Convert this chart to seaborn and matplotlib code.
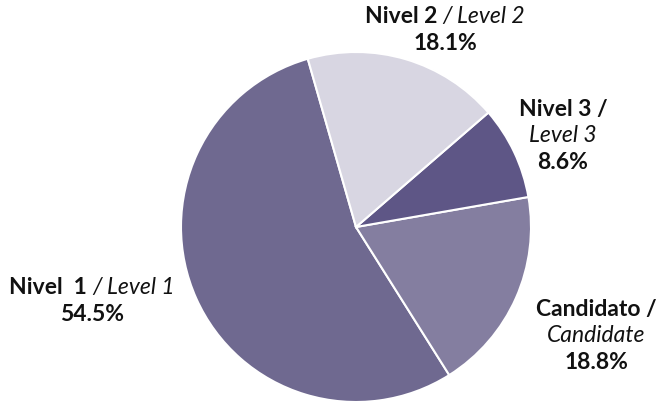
import matplotlib
matplotlib.use("Agg")
import matplotlib.pyplot as plt
import seaborn as sns
from matplotlib.offsetbox import TextArea, HPacker, VPacker, AnnotationBbox

# data
names_es = ["Nivel  1", "Candidato", "Nivel 3", "Nivel 2"]
names_en = ["Level 1", "Candidate", "Level 3", "Level 2"]
shares = [54.5, 18.8, 8.6, 18.1]
colors = ["#6f6990", "#847ea0", "#5e5686", "#d8d6e2"]

sns.set_theme(style="white")
plt.rcParams["font.family"] = ["Lato", "DejaVu Sans"]

W, H = 661, 402
fig = plt.figure(figsize=(6.61, 4.02), dpi=100)
ax = fig.add_axes([0, 0, 1, 1])

ax.pie(shares, colors=sns.color_palette(colors), startangle=106, counterclock=True,
       radius=175, center=(356, H - 228),
       wedgeprops=dict(edgecolor="white", linewidth=1.5))
ax.set_xlim(0, W)
ax.set_ylim(0, H)
ax.set_aspect("equal")
ax.axis("off")

fs = 16.5
bold = dict(fontsize=fs, fontweight="bold", color="#111111")
ital = dict(fontsize=fs, fontstyle="italic", color="#111111")


def label(lines, x, y):
    rows = []
    for parts in lines:
        boxes = [TextArea(t, textprops=p) for t, p in parts]
        rows.append(HPacker(children=boxes, pad=0, sep=0, align="baseline"))
    box = VPacker(children=rows, pad=0, sep=4, align="center")
    ab = AnnotationBbox(box, (x, H - y), frameon=False, box_alignment=(0.5, 0.5))
    ax.add_artist(ab)


pct = [f"{v:.1f}%" for v in shares]
label([[(names_es[0] + " ", bold), ("/ " + names_en[0], ital)], [(pct[0], bold)]], 92, 301)
label([[(names_es[3] + " ", bold), ("/ " + names_en[3], ital)], [(pct[3], bold)]], 445, 30)
label([[(names_es[2] + " /", bold)], [(names_en[2], ital)], [(pct[2], bold)]], 563, 136)
label([[(names_es[1] + " /", bold)], [(names_en[1], ital)], [(pct[1], bold)]], 596, 336)

fig.savefig("out.png", dpi=100, facecolor="white")
